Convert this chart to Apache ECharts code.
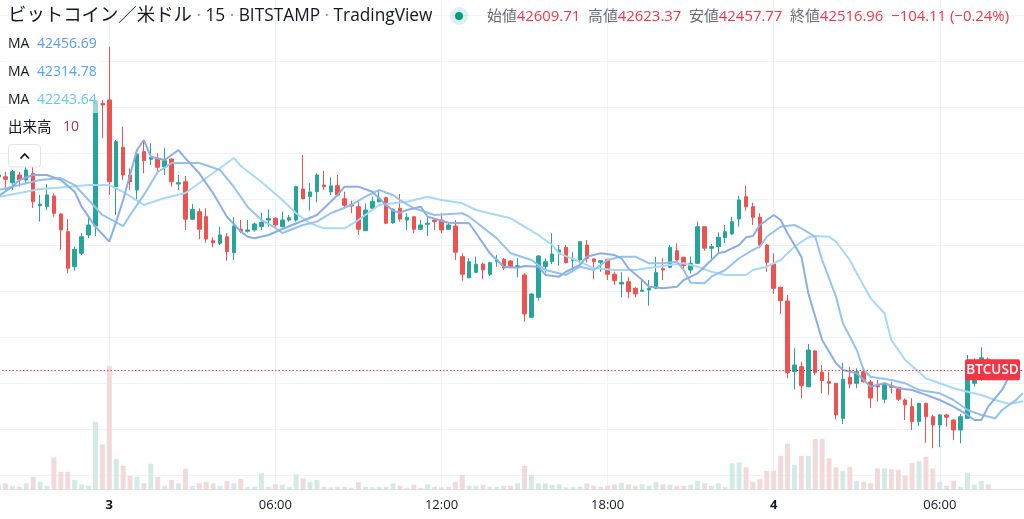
<!DOCTYPE html>
<html><head><meta charset="utf-8">
<style>html,body{margin:0;padding:0;background:#fff;}#c{width:1024px;height:519px;}</style>
<script src="https://cdn.jsdelivr.net/npm/echarts/dist/echarts.min.js"></script>
</head><body><div id="c"></div>
<script>
// ---------- DATA (15-minute bars, BITSTAMP BTC/USD) ----------
// category j = 0 is 2 Mar 20:00, one category per 15 minutes
const tickIdx  = [16, 40, 64, 88, 112, 136];
const tickText = ['3', '06:00', '12:00', '18:00', '4', '06:00'];
const tickBold = [true, false, false, false, true, false];

// [open, close, low, high]
const candles = [
[44192,44209,44175,44227],[44194,44172,44079,44238],[44142,44238,44079,44253],[44209,44166,44108,44238],
[44166,44253,44137,44281],[44224,43977,43923,44340],[43943,43957,43804,44036],[43934,44036,43905,44131],
[44027,43877,43847,44050],[43871,43732,43558,43877],[43717,43399,43355,43825],[43413,43564,43378,43587],
[43529,43673,43514,43706],[43688,43775,43662,43836],[43766,44846,43679,44861],[44832,44817,44528,44861],
[44861,44151,44036,45324],[44108,44499,43862,44513],[44450,44209,44166,44629],[44209,44151,44079,44267],
[44079,44392,43992,44426],[44412,44334,44224,44499],[44346,44363,44296,44485],[44354,44276,44238,44398],
[44281,44334,44209,44441],[44348,44151,44108,44354],[44131,44142,44079,44209],[44151,43825,43732,44201],
[43825,43911,43818,43957],[43891,43738,43651,43920],[43847,43653,43621,43920],[43639,43619,43581,43668],
[43616,43688,43601,43760],[43673,43543,43465,43703],[43534,43766,43471,43842],[43738,43717,43703,43818],
[43720,43732,43708,43818],[43732,43784,43717,43795],[43760,43798,43732,43882],[43818,43833,43760,43911],
[43833,43775,43760,43842],[43760,43818,43755,43891],[43818,43838,43804,43862],[43818,44108,43804,44116],
[44088,44003,43998,44383],[44021,44062,43899,44137],[44064,44209,43972,44224],[44122,44108,44079,44244],
[44064,44114,44036,44189],[44116,44036,44030,44209],[44003,43946,43929,44064],[43955,43940,43877,43986],
[43934,43738,43688,43977],[43725,43905,43723,43963],[43920,43981,43905,44021],[43977,44007,43972,44079],
[44012,43790,43781,44021],[43795,43911,43784,43920],[43920,43827,43804,44044],[43818,43842,43732,43877],
[43847,43738,43703,43847],[43738,43775,43732,43818],[43781,43790,43679,43853],[43818,43804,43732,43825],
[43818,43732,43703,43877],[43738,43775,43732,43795],[43766,43538,43471,43818],[43500,43347,43291,43529],
[43317,43456,43312,43486],[43364,43434,43355,43500],[43436,43384,43303,43448],[43347,43448,43332,43456],
[43456,43471,43413,43514],[43477,43401,43384,43488],[43462,43404,43401,43471],[43413,43421,43321,43488],
[43341,43002,42935,43355],[42973,43176,42965,43182],[43147,43506,43117,43514],[43413,43456,43361,43486],
[43456,43523,43436,43703],[43538,43558,43421,43601],[43581,43448,43442,43601],[43465,43480,43364,43538],
[43471,43630,43442,43636],[43601,43486,43448,43645],[43480,43456,43303,43486],[43451,43465,43369,43465],
[43477,43347,43297,43477],[43347,43291,43254,43369],[43262,43277,43147,43364],[43282,43196,43138,43321],
[43225,43176,43147,43234],[43199,43210,43196,43297],[43210,43225,43074,43297],[43225,43361,43216,43500],
[43395,43384,43297,43486],[43408,43581,43399,43601],[43552,43471,43456,43616],[43494,43421,43384,43500],
[43384,43442,43355,43500],[43442,43760,43436,43804],[43760,43573,43552,43760],[43573,43587,43471,43610],
[43587,43668,43534,43712],[43666,43717,43616,43775],[43697,43804,43688,43847],[43827,43992,43760,44027],
[44021,43934,43899,44116],[43934,43842,43775,43969],[43842,43601,43573,43877],[43601,43451,43369,43610],
[43436,43225,43176,43529],[43234,43117,43002,43239],[43115,42492,42443,43167],[42501,42559,42348,42704],
[42544,42379,42270,42588],[42370,42689,42365,42741],[42681,42492,42472,42689],[42496,42423,42313,42559],
[42414,42400,42298,42501],[42400,42125,42087,42400],[42096,42435,42046,42579],[42452,42394,42357,42539],
[42400,42501,42357,42530],[42501,42414,42405,42530],[42411,42272,42185,42429],[42385,42370,42240,42429],
[42261,42400,42226,42400],[42377,42365,42313,42414],[42365,42261,42246,42370],[42255,42212,42081,42270],
[42197,42067,41994,42270],[42067,42226,42029,42231],[42226,42110,41884,42231],[42110,42038,41835,42125],
[42038,42125,41844,42133],[42125,42105,42023,42131],[42081,41994,41908,42087],[41994,42110,41879,42133],
[42096,42435,42090,42646],[42400,42435,42370,42617],[42435,42621.07,42420,42713],[42609.71,42516.96,42457.77,42623.37]
];

const volumes = [
9,12,7,5,12,25,15,7,64,35,35,19,10,7,135,90,
247,61,47,27,25,12,
51,25,7,19,12,41,7,12,15,12,7,17,12,21,5,5,32,5,10,9,
5,30,22,15,19,5,4,5,5,3,14,5,4,5,5,12,7,3,9,3,10,
5,4,5,15,29,7,7,9,5,5,7,7,12,47,29,12,12,9,10,4,5,
5,12,7,5,7,10,13,10,7,10,7,15,10,9,7,7,9,17,12,7,12,
5,52,54,44,15,20,37,37,67,91,49,67,67,101,101,62,44,37,45,17,15,12,
42,42,40,39,27,53,57,65,42,15,7,17,5,33,9,17,10
];

// moving-average lines: [category index, price]
const maFast = [[0,44027],[2,44108],[3,44166],[5,44209],[7,44209],[9,44166],[11,44064],[12,43934],[14,43760],
[16,43630],[17,43804],[18,43992],[19,44209],[20,44426],[21,44513],[22,44368],[24,44340],[26,44426],[27,44354],
[29,44224],[31,44050],[33,43847],[35,43717],[36,43673],[37,43659],[39,43688],[41,43740],[46,43862],[49,44036],
[50,44108],[52,44108],[54,44064],[56,43949],[57,43899],[58,43882],[59,43905],[61,43934],[62,43847],[65,43795],
[68,43790],[69,43703],[71,43529],[73,43413],[75,43404],[76,43419],[78,43413],[79,43341],[81,43326],[82,43369],
[84,43428],[85,43500],[87,43529],[89,43514],[90,43486],[91,43399],[93,43297],[94,43239],[96,43225],[98,43239],
[99,43297],[101,43355],[102,43413],[104,43529],[105,43543],[107,43601],[108,43668],[109,43679],[110,43775],
[112,43862],[113,43818],[114,43703],[116,43500],[117,43182],[119,42776],[121,42574],[122,42516],[124,42487],
[126,42371],[128,42400],[130,42357],[132,42342],[134,42299],[136,42255],[138,42197],[140,42125],[141,42081],
[142,42081],[143,42197],[145,42342],[146,42456.69]];
const maMid = [[0,44079],[3,44122],[6,44166],[9,44183],[11,44122],[13,43992],[15,43862],[18,43766],[19,43862],
[21,44036],[23,44235],[25,44313],[29,44313],[32,44253],[34,44105],[36,43931],[38,43818],[40,43749],[41,43705],
[44,43775],[46,43804],[48,43877],[51,43949],[53,44021],[55,44079],[57,44036],[58,43992],[60,43920],[63,43862],
[67,43877],[68,43847],[72,43659],[74,43529],[77,43471],[79,43384],[82,43341],[84,43413],[86,43384],[88,43471],
[90,43500],[92,43500],[94,43442],[96,43442],[98,43456],[99,43384],[100,43274],[102,43269],[103,43326],[105,43384],
[107,43486],[109,43558],[110,43587],[111,43673],[113,43760],[115,43775],[116,43746],[118,43673],[119,43471],
[121,43152],[122,42921],[124,42689],[125,42516],[126,42457],[129,42429],[131,42400],[133,42342],[136,42313],
[138,42255],[140,42168],[142,42125],[144,42096],[145,42168],[147,42255],[148,42314.78]];
const maSlow = [[0,44018],[3,44053],[6,44088],[10,44105],[13,44122],[16,44122],[18,44062],[21,43949],[24,44010],
[27,44053],[30,44183],[34,44357],[35,44287],[38,44148],[41,43992],[43,43877],[45,43790],[47,43746],[50,43746],
[52,43818],[54,43905],[55,43949],[57,43963],[59,43977],[62,44021],[64,43992],[67,43963],[69,43905],[72,43862],
[74,43833],[76,43760],[78,43688],[80,43601],[81,43529],[84,43454],[86,43401],[89,43384],[92,43384],[95,43410],
[97,43428],[99,43442],[101,43413],[103,43369],[105,43341],[108,43341],[109,43384],[111,43413],[113,43471],
[115,43587],[117,43668],[118,43679],[120,43673],[121,43630],[123,43471],[124,43355],[126,43138],[128,43008],
[129,42776],[131,42602],[134,42443],[136,42400],[138,42357],[140,42327],[142,42298],[144,42255],[146,42220],
[148,42243.64]];

// ---------- BUILD ----------
const NCAT = 150;
const categories = [];
for (let j = 0; j < NCAT; j++) {
  const t = 20 * 60 + 15 * j;
  const d = 2 + Math.floor(t / 1440), m = t % 1440;
  categories.push('03/' + String(d).padStart(2, '0') + ' ' + String(Math.floor(m / 60)).padStart(2, '0') + ':' + String(m % 60).padStart(2, '0'));
}
const UP = '#26a69a', DOWN = '#ef5350';
const volData = volumes.map((v, j) => ({
  value: v,
  itemStyle: { color: candles[j][1] >= candles[j][0] ? '#d3ece3' : '#f3dada' }
}));
const last = candles[candles.length - 1];
const prev = candles[candles.length - 2];
const chg = last[1] - prev[1];
const pct = chg / prev[1] * 100;
const fmt = v => v.toFixed(2);
const sgn = v => (v < 0 ? '\u2212' : '+') + Math.abs(v).toFixed(2);

const FONT = "'Open Sans','Noto Sans CJK JP',sans-serif";
const GL = -1.436, GW = 1031.2;
const showTick = (idx) => tickIdx.indexOf(idx) >= 0;

const chart = echarts.init(document.getElementById('c'));
const lastOf = a => a[a.length - 1][1];

const option = {
  animation: false,
  backgroundColor: '#ffffff',
  grid: [
    { left: GL, width: GW, top: 14.886, height: 460.5, outerBoundsMode: 'none', containLabel: false },
    { left: GL, width: GW, top: 0, height: 489.3, outerBoundsMode: 'none', containLabel: false }
  ],
  xAxis: [
    { type: 'category', gridIndex: 0, data: categories, boundaryGap: false,
      axisLine: { show: false }, axisTick: { show: false }, axisLabel: { show: false }, splitLine: { show: false } },
    { type: 'category', gridIndex: 1, data: categories, boundaryGap: false,
      axisLine: { show: true, lineStyle: { color: '#e0e3eb', width: 1 } }, axisTick: { show: false },
      axisLabel: { show: true, interval: (i) => showTick(i),
        margin: 9, color: '#131722', fontSize: 13, fontFamily: FONT,
        formatter: (v, i) => { const k = tickIdx.indexOf(i); if (k < 0) return ''; return tickBold[k] ? '{b|' + tickText[k] + '}' : tickText[k]; },
        rich: { b: { fontWeight: 'bold', fontSize: 13, fontFamily: FONT, color: '#131722' } } },
      splitLine: { show: true, interval: (i) => showTick(i), lineStyle: { color: '#f0f3fa', width: 1 } } }
  ],
  yAxis: [
    { type: 'value', gridIndex: 0, min: 41600, max: 45600, interval: 400,
      axisLine: { show: false }, axisTick: { show: false }, axisLabel: { show: false },
      splitLine: { show: true, lineStyle: { color: '#f0f3fa', width: 1 } } },
    { type: 'value', gridIndex: 1, min: 0, max: 978.6,
      axisLine: { show: false }, axisTick: { show: false }, axisLabel: { show: false }, splitLine: { show: false } }
  ],
  series: [
    { type: 'bar', xAxisIndex: 1, yAxisIndex: 1, data: volData, barWidth: 5, silent: true, z: 1 },
    { type: 'candlestick', xAxisIndex: 0, yAxisIndex: 0, data: candles, barWidth: 4, silent: true, z: 2,
      itemStyle: { color: UP, color0: DOWN, borderColor: UP, borderColor0: DOWN, borderWidth: 1 },
      markLine: { silent: true, symbol: ['none', 'none'], label: { show: false },
        lineStyle: { color: '#f23645', type: [1.5, 2], width: 1 },
        data: [{ yAxis: last[1] }] } },
    { type: 'line', xAxisIndex: 0, yAxisIndex: 0, data: maSlow, showSymbol: false, symbol: 'none', silent: true, z: 3,
      lineStyle: { color: '#a6d9f8', width: 2 } },
    { type: 'line', xAxisIndex: 0, yAxisIndex: 0, data: maMid, showSymbol: false, symbol: 'none', silent: true, z: 3,
      lineStyle: { color: '#94c2f1', width: 2 } },
    { type: 'line', xAxisIndex: 0, yAxisIndex: 0, data: maFast, showSymbol: false, symbol: 'none', silent: true, z: 3,
      lineStyle: { color: '#8aaee8', width: 2 } }
  ],
  graphic: []
};
chart.setOption(option);

// ---------- overlay texts ----------
const lab = (id, x, y, text, size, color, extra) => Object.assign({
  type: 'text', id: id, x: x, y: y, z: 100, silent: true,
  style: Object.assign({ text: text, fontSize: size, fontFamily: FONT, fill: color, verticalAlign: 'middle', textAlign: 'left' }, extra || {})
});
const rows = [
  { y: 44, v: lastOf(maFast), c: '#5b9cf6' },
  { y: 72, v: lastOf(maMid), c: '#4ea6f2' },
  { y: 100, v: lastOf(maSlow), c: '#62c7f8' }
];
const g = [];
rows.forEach((r, k) => {
  g.push({ type: 'rect', id: 'bg' + k, z: 99, silent: true, shape: { x: 4, y: r.y - 13, width: 97, height: 26, r: 3 }, style: { fill: 'rgba(255,255,255,0.55)' } });
  g.push(lab('ma' + k, 8, r.y, 'MA', 14, '#131722'));
  g.push(lab('mv' + k, 37, r.y, fmt(r.v), 14, r.c));
});
g.push(lab('volL', 8, 127.5, '出来高', 14.5, '#131722'));
g.push(lab('volV', 63, 127.5, String(volumes[volumes.length - 1]), 14, '#a8393e'));
g.push({ type: 'rect', id: 'btn', z: 100, silent: true, shape: { x: 8.5, y: 144.5, width: 32, height: 22.5, r: 3 }, style: { fill: '#ffffff', stroke: '#e0e3eb', lineWidth: 1 } });
g.push({ type: 'polyline', id: 'caret', z: 101, silent: true, shape: { points: [[20.5, 158.5], [24.7, 154], [28.9, 158.5]] }, style: { stroke: '#131722', lineWidth: 1.8, fill: null } });

// header
g.push({ type: 'text', id: 'title', x: 8, y: 16, z: 100, silent: true, style: {
  text: '{c|ビットコイン／米ドル}{d| · }{t|15}{d| · }{t|BITSTAMP}{d| · }{t|TradingView}',
  verticalAlign: 'middle', fontSize: 17.3, fontFamily: FONT, fill: '#131722',
  rich: { c: { fontSize: 18.4, fontFamily: FONT, fill: '#131722' }, t: { fontSize: 17.3, fontFamily: FONT, fill: '#131722' }, d: { fontSize: 17.3, fontFamily: FONT, fill: '#9598a1' } } } });
g.push({ type: 'circle', id: 'halo', z: 100, silent: true, shape: { cx: 459, cy: 16, r: 9 }, style: { fill: 'rgba(8,153,129,0.14)' } });
g.push({ type: 'circle', id: 'dot', z: 101, silent: true, shape: { cx: 459, cy: 16, r: 4 }, style: { fill: '#089981' } });
const vc = '#f23645';
g.push({ type: 'text', id: 'ohlc', x: 487, y: 17, z: 100, silent: true, style: {
  text: '{l|始値}{v|' + fmt(last[0]) + '}  {l|高値}{v|' + fmt(last[3]) + '}  {l|安値}{v|' + fmt(last[2]) + '}  {l|終値}{v|' + fmt(last[1]) + '}  {v|' + sgn(chg) + ' (' + sgn(pct) + '%)}',
  verticalAlign: 'middle', fontSize: 14.9, fontFamily: FONT, fill: '#787b86',
  rich: { l: { fontSize: 14.9, fontFamily: FONT, fill: '#6a6d78' }, v: { fontSize: 14.9, fontFamily: FONT, fill: vc } } } });

// price label through the library's scale
const py = chart.convertToPixel({ xAxisIndex: 0, yAxisIndex: 0 }, [candles.length - 1, last[1]])[1];
g.push({ type: 'rect', id: 'plab', z: 110, silent: true, shape: { x: 965, y: py - 10.5, width: 55, height: 21, r: 2 }, style: { fill: '#f23645' } });
g.push({ type: 'text', id: 'ptxt', x: 992.5, y: py + 0.5, z: 111, silent: true, style: { text: 'BTCUSD', fontSize: 13.5, fontFamily: FONT, fill: '#ffffff', textAlign: 'center', verticalAlign: 'middle', fontWeight: 600 } });

chart.setOption({ graphic: g });
</script></body></html>
